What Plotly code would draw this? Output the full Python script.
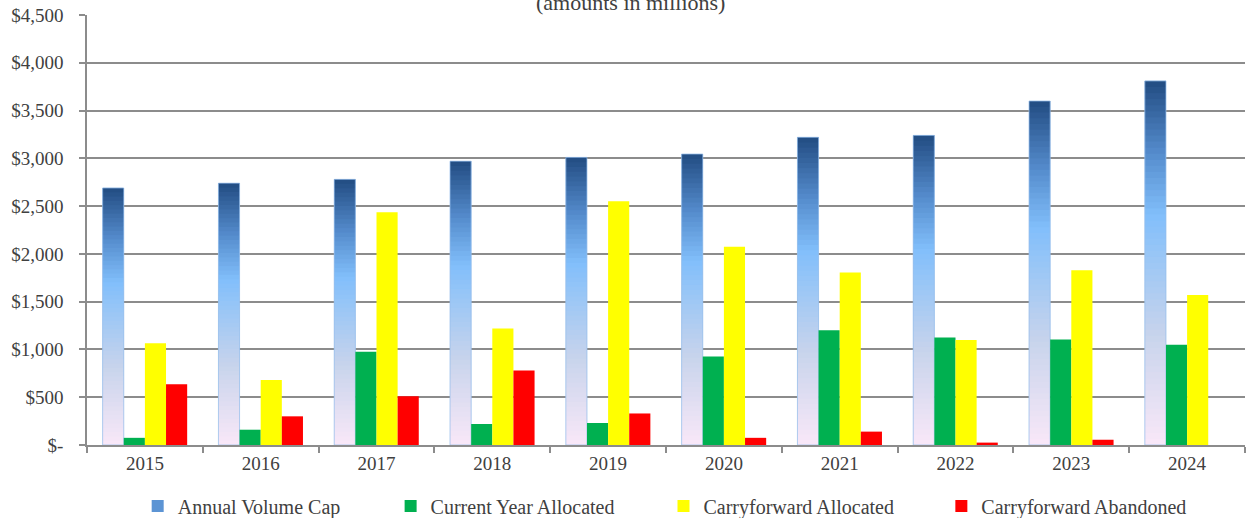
import plotly.graph_objects as go

# ---- data (amounts in millions of dollars) ----
years = ["2015", "2016", "2017", "2018", "2019", "2020", "2021", "2022", "2023", "2024"]
annual_volume_cap = [2690, 2740, 2780, 2970, 3010, 3045, 3220, 3240, 3600, 3810]
current_year_allocated = [75, 160, 975, 220, 230, 925, 1200, 1125, 1105, 1050]
carryforward_allocated = [1065, 680, 2435, 1220, 2550, 2075, 1805, 1100, 1830, 1570]
carryforward_abandoned = [635, 300, 510, 780, 330, 75, 140, 25, 55, 0]

y_tick_values = [0, 500, 1000, 1500, 2000, 2500, 3000, 3500, 4000, 4500]
y_tick_labels = ["$-", "$500", "$1,000", "$1,500", "$2,000", "$2,500",
                 "$3,000", "$3,500", "$4,000", "$4,500"]

FONT = "Liberation Serif"
TEXT = "#404040"
GRID = "#8c8c8c"

# vertical gradient for the cap bars: (fraction from bottom, rgb)
grad_stops = [
    (0.00, (249, 232, 248)),
    (0.30, (200, 212, 236)),
    (0.63, (130, 191, 251)),
    (0.80, (85, 140, 205)),
    (1.00, (34, 76, 130)),
]


def grad_color(t):
    for (t0, c0), (t1, c1) in zip(grad_stops[:-1], grad_stops[1:]):
        if t <= t1:
            f = (t - t0) / (t1 - t0) if t1 > t0 else 0
            return "rgb(%d,%d,%d)" % tuple(round(a + (b - a) * f) for a, b in zip(c0, c1))
    return "rgb(%d,%d,%d)" % grad_stops[-1][1]


fig = go.Figure()

# cap bars are built from stacked slices sharing one offset group;
# each slice reaches a little past the next one so no seams show
N_SLICES = 60
legend_slice = int(N_SLICES * 0.78)
for i in range(N_SLICES):
    t = (i + 0.5) / N_SLICES
    bases = [v * i / N_SLICES for v in annual_volume_cap]
    tops = [min(v * (i + 2) / N_SLICES, v) for v in annual_volume_cap]
    fig.add_trace(go.Bar(
        x=years,
        y=[tp - b for tp, b in zip(tops, bases)],
        base=bases,
        offsetgroup="cap",
        marker=dict(color=grad_color(t), line=dict(width=0)),
        name="Annual Volume Cap",
        showlegend=(i == legend_slice),
        legend="legend",
        hoverinfo="skip",
    ))

# thin light outline around each cap bar
fig.add_trace(go.Bar(
    x=years, y=annual_volume_cap, offsetgroup="cap",
    marker=dict(color="rgba(0,0,0,0)", line=dict(width=1, color="rgba(150,190,235,0.75)")),
    showlegend=False, hoverinfo="skip",
))

series = [
    ("Current Year Allocated", current_year_allocated, "#00b050", "cur", "legend2"),
    ("Carryforward Allocated", carryforward_allocated, "#ffff00", "cfa", "legend3"),
    ("Carryforward Abandoned", carryforward_abandoned, "#ff0000", "cfb", "legend4"),
]
for name, vals, col, grp, lg in series:
    fig.add_trace(go.Bar(
        x=years, y=vals, name=name, offsetgroup=grp,
        marker=dict(color=col, line=dict(width=0)),
        legend=lg,
    ))

legend_common = dict(
    orientation="h", xref="container", yref="container",
    yanchor="middle", y=0.023, xanchor="left",
    font=dict(family=FONT, size=20, color=TEXT),
    bgcolor="rgba(0,0,0,0)", itemwidth=30,
)

fig.update_layout(
    width=1246, height=518,
    margin=dict(l=87, r=1, t=15, b=73),
    paper_bgcolor="white", plot_bgcolor="white",
    barmode="group", bargap=0.27, bargroupgap=0,
    font=dict(family=FONT, size=18, color=TEXT),
    legend=dict(legend_common, x=0.1105),
    legend2=dict(legend_common, x=0.3135),
    legend3=dict(legend_common, x=0.5325),
    legend4=dict(legend_common, x=0.7555),
    xaxis=dict(
        type="category", tickson="boundaries", ticks="outside", ticklen=6,
        tickcolor=GRID, tickwidth=1.5, showline=True, linecolor=GRID, linewidth=1.5,
        showgrid=False, tickfont=dict(family=FONT, size=19, color=TEXT),
    ),
    yaxis=dict(
        range=[0, 4500], tickvals=y_tick_values, ticktext=y_tick_labels,
        ticks="outside", ticklen=6, tickcolor=GRID, tickwidth=1.5,
        showline=True, linecolor=GRID, linewidth=1.5,
        showgrid=True, gridcolor=GRID, gridwidth=1.5, zeroline=False,
        ticklabelstandoff=12, tickfont=dict(family=FONT, size=19, color=TEXT),
    ),
    annotations=[dict(
        text="(amounts in millions)", xref="paper", yref="paper",
        x=0.469, y=1.03, xanchor="center", yanchor="middle", showarrow=False,
        font=dict(family=FONT, size=22, color=TEXT),
    )],
)

fig.write_html("out.html")
